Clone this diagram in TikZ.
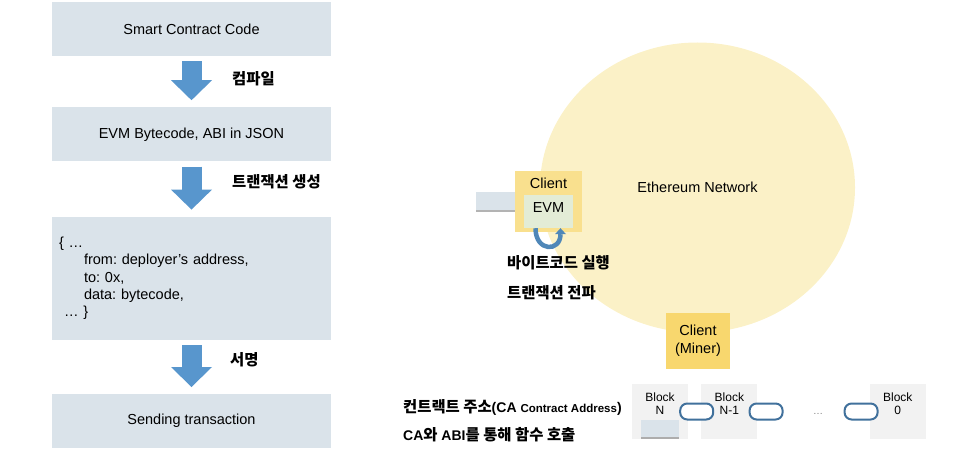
\documentclass[tikz,border=0pt]{standalone}
\usepackage{fontspec}
\setmainfont{Liberation Sans}
\newfontfamily\kr{Noto Sans CJK KR}[Scale=1.1]
\usetikzlibrary{positioning,arrows.meta,shapes.geometric,shadows}
\definecolor{boxblue}{RGB}{218,227,234}
\definecolor{arrowblue}{RGB}{88,150,205}
\definecolor{netyellow}{RGB}{251,241,199}
\definecolor{clientyellow}{RGB}{249,224,142}
\definecolor{minerorange}{RGB}{248,215,110}
\definecolor{evmgreen}{RGB}{227,236,214}
\definecolor{blockgray}{RGB}{242,242,242}
\definecolor{linkblue}{RGB}{65,113,156}
\frenchspacing

\begin{document}
\begin{tikzpicture}[x=1pt,y=-1pt,
  box/.style={fill=boxblue,minimum width=279pt,minimum height=54pt,inner sep=7pt,font=\fontsize{14.5}{17.4}\selectfont},
  fatarrow/.style={draw=arrowblue,line width=20pt,-{Triangle[width=41pt,length=20pt,line width=0pt]},shorten <=5pt,shorten >=7pt},
  lbl/.style={anchor=west,inner sep=0pt,font=\bfseries\fontsize{14}{16}\selectfont},
  minibox/.style={fill=boxblue,inner sep=0pt,drop shadow={shadow xshift=0pt,shadow yshift=-1.5pt,opacity=.6,fill=gray}},
  block/.style={fill=blockgray,minimum width=56pt,minimum height=55pt,inner sep=0pt},
  blocklbl/.style={anchor=north,yshift=-5pt,align=center,font=\fontsize{12}{13.5}\selectfont},
  link/.style={draw=linkblue,line width=2pt,fill=white,rounded corners=7pt,minimum width=33pt,minimum height=16pt,inner sep=0pt}]
\useasboundingbox (0,0) rectangle (957,449);
% left column
\node[box] (code) at (191.5,29) {Smart Contract Code};
\node[box,below=51pt of code] (bytecode) {EVM Bytecode, ABI in JSON};
\node[box,below=55pt of bytecode,minimum height=123pt,text width=265pt,align=left] (txn) {\{ …\\
\hspace*{25pt}from: deployer’s address,\\
\hspace*{25pt}to: 0x,\\
\hspace*{25pt}data: bytecode,\\
\hspace*{5pt}… \}};
\node[box,below=54pt of txn] (send) {Sending transaction};
\draw[fatarrow] (code) -- (bytecode);
\draw[fatarrow] (bytecode) -- (txn);
\draw[fatarrow] (txn) -- (send);
\node[lbl] (compile) at (232,79) {\kr 컴파일};
\node[lbl] (create) at (232,182) {\kr 트랜잭션 생성};
\node[lbl] (sign) at (230,360) {\kr 서명};
% network
\node[ellipse,fill=netyellow,minimum width=315pt,minimum height=290pt,inner sep=0pt,font=\fontsize{14.5}{17.4}\selectfont] (net) at (697.5,187.5) {Ethereum Network};
\node[minibox,minimum width=39pt,minimum height=18pt] (tx) at (495.5,201) {};
\node[fill=clientyellow,minimum width=67pt,minimum height=61pt,inner sep=0pt,label={[anchor=north,yshift=-3.5pt,font=\fontsize{14.5}{17.4}\selectfont]north:Client}] (client) at (548.5,201.5) {};
\node[fill=evmgreen,minimum width=49pt,minimum height=33pt,inner sep=0pt,text depth=8pt,font=\fontsize{14.5}{17.4}\selectfont] (evm) at (548.5,211.5) {EVM};
\draw[draw=arrowblue!90!black,line width=4.5pt,-{Triangle[width=11pt,length=6pt,line width=0pt]}] ([xshift=-13pt]evm.south) .. controls +(0,24) and +(0,24) .. ([xshift=12pt]evm.south);
\node[lbl] (run) at (507,263) {\kr 바이트코드 실행};
\node[lbl] (spread) at (507,293) {\kr 트랜잭션 전파};
\node[fill=minerorange,minimum width=64pt,minimum height=56pt,inner sep=0pt,align=center,font=\fontsize{14.5}{18}\selectfont] (miner) at (698,341) {Client\\(Miner)};
% chain
\node[block,label={[blocklbl]north:Block\\N}] (bN) at (660,411.5) {};
\node[block,right=13pt of bN,label={[blocklbl]north:Block\\N-1}] (bN1) {};
\node[block,right=112pt of bN1,label={[blocklbl]north:Block\\0}] (b0) {};
\node[minibox,minimum width=38pt,minimum height=17pt] (ca) at (660,428.5) {};
\node[link,right=-9pt of bN] (l1) {};
\node[link,right=-9pt of bN1] (l2) {};
\node[link,left=-9pt of b0] (l3) {};
\node[text=gray,font=\fontsize{10}{12}\selectfont] (dots) at (818,414) {…};
\node[lbl] (addr) at (403,407) {{\kr 컨트랙트 주소}(CA {\fontsize{11.5}{14}\selectfont Contract Address})};
\node[lbl] (call) at (403,435) {CA{\kr 와} ABI{\kr 를 통해 함수 호출}};
\end{tikzpicture}
\end{document}
